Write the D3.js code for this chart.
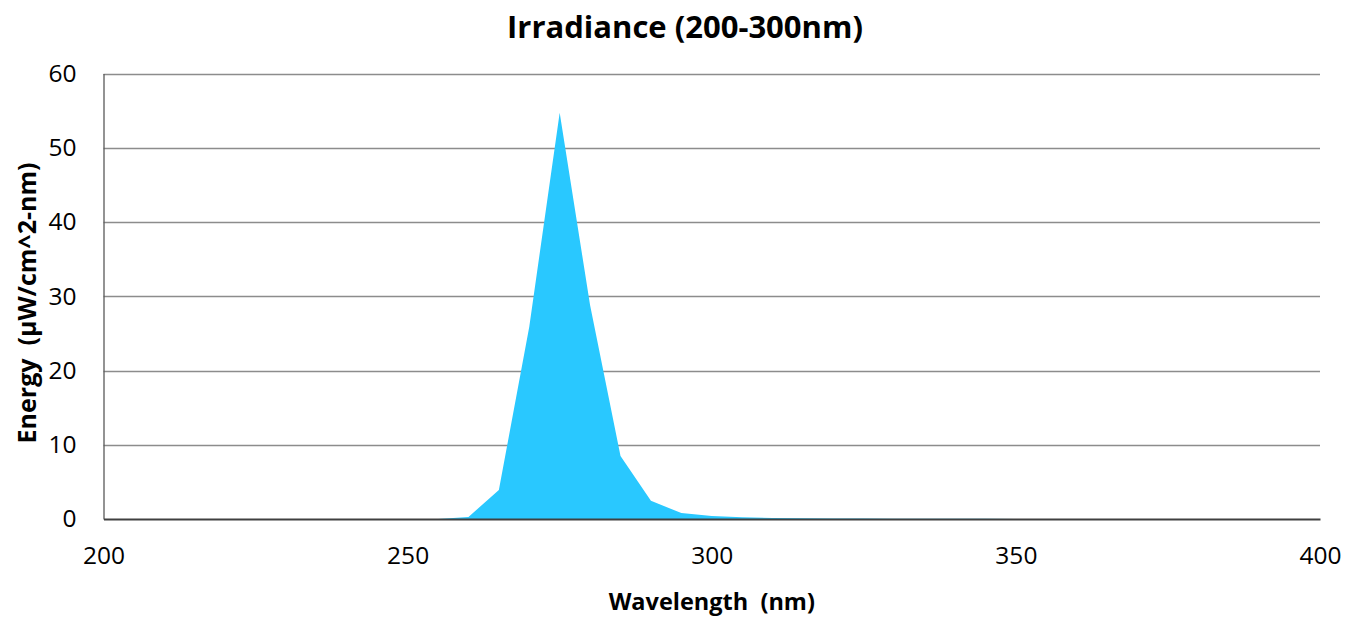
<!DOCTYPE html>
<html>
<head>
<meta charset="utf-8">
<script src="https://cdn.jsdelivr.net/npm/d3@7"></script>
<style>
	body { margin: 0; background: #fff; }
	text { font-family: "Open Sans", sans-serif; white-space: pre; }
</style>
</head>
<body>
<svg id="svg1"></svg>
<script>
// wavelength (nm), every 5 nm
wavelengths = [255, 260, 265, 270, 275, 280, 285, 290, 295, 300, 305, 310, 315, 320, 325, 330, 335, 340, 345, 350, 355];
// energy (uW/cm^2-nm)
energy = [0, 0.27, 3.9, 25.9, 54.7, 28.8, 8.5, 2.45, 0.8, 0.4, 0.22, 0.13, 0.09, 0.07, 0.06, 0.05, 0.04, 0.03, 0.02, 0.01, 0];

x_ticks = [200, 250, 300, 350, 400];
y_ticks = [0, 10, 20, 30, 40, 50, 60];

chart_title = "Irradiance (200-300nm)";
x_title = "Wavelength  (nm)";
y_title = "Energy  (\u00b5W/cm^2-nm)";

settings = {
	width : 1350,
	height : 621,
	left : 103.5,
	right : 1320,
	top : 73.5,
	bottom : 519
}

data = wavelengths.map((w, i) => ({ w: w, e: energy[i] }));

var x = d3.scaleLinear().domain([200, 400]).range([settings.left, settings.right]);
var y = d3.scaleLinear().domain([0, 60]).range([settings.bottom, settings.top]);

svg = d3.select("#svg1")
	.attr("width", settings.width)
	.attr("height", settings.height)

// gridlines
svg.append("g")
	.selectAll("line")
	.data(y_ticks.filter(d => d > 0))
	.enter().append("line")
		.attr("x1", settings.left)
		.attr("x2", settings.right)
		.attr("y1", d => Math.round(y(d)) + 0.5)
		.attr("y2", d => Math.round(y(d)) + 0.5)
		.attr("stroke", "#8c8c8c")
		.attr("stroke-width", 1.5)

// area
var area = d3.area()
	.x(d => x(d.w))
	.y0(y(0))
	.y1(d => y(d.e));

svg.append("path")
	.datum(data)
	.attr("fill", "#29C8FF")
	.attr("d", area)

// axes
yAxis = svg.append("g")
	.attr("transform", "translate(" + settings.left + ",0)")
	.call(d3.axisLeft(y).tickValues(y_ticks).tickSize(0).tickPadding(27));
yAxis.select(".domain").attr("stroke", "#595959").attr("stroke-width", 1.3);
yAxis.selectAll("text").attr("font-size", 24.5).attr("fill", "#000").attr("font-family", "Open Sans");

xAxis = svg.append("g")
	.attr("transform", "translate(0," + settings.bottom + ")")
	.call(d3.axisBottom(x).tickValues(x_ticks).tickSize(0).tickPadding(28));
xAxis.select(".domain").attr("stroke", "#404040").attr("stroke-width", 1.8);
xAxis.selectAll("text").attr("font-size", 24.5).attr("fill", "#000").attr("font-family", "Open Sans");

// titles
svg.append("text")
	.attr("x", 685)
	.attr("y", 38)
	.attr("text-anchor", "middle")
	.attr("font-size", 31)
	.attr("font-weight", "bold")
	.text(chart_title)

svg.append("text")
	.attr("x", (settings.left + settings.right) / 2)
	.attr("y", 610)
	.attr("text-anchor", "middle")
	.attr("font-size", 23.5)
	.attr("font-weight", "bold")
	.text(x_title)

svg.append("text")
	.attr("transform", "translate(36,303) rotate(-90)")
	.attr("text-anchor", "middle")
	.attr("font-size", 25)
	.attr("font-weight", "bold")
	.text(y_title)
</script>
</body>
</html>
